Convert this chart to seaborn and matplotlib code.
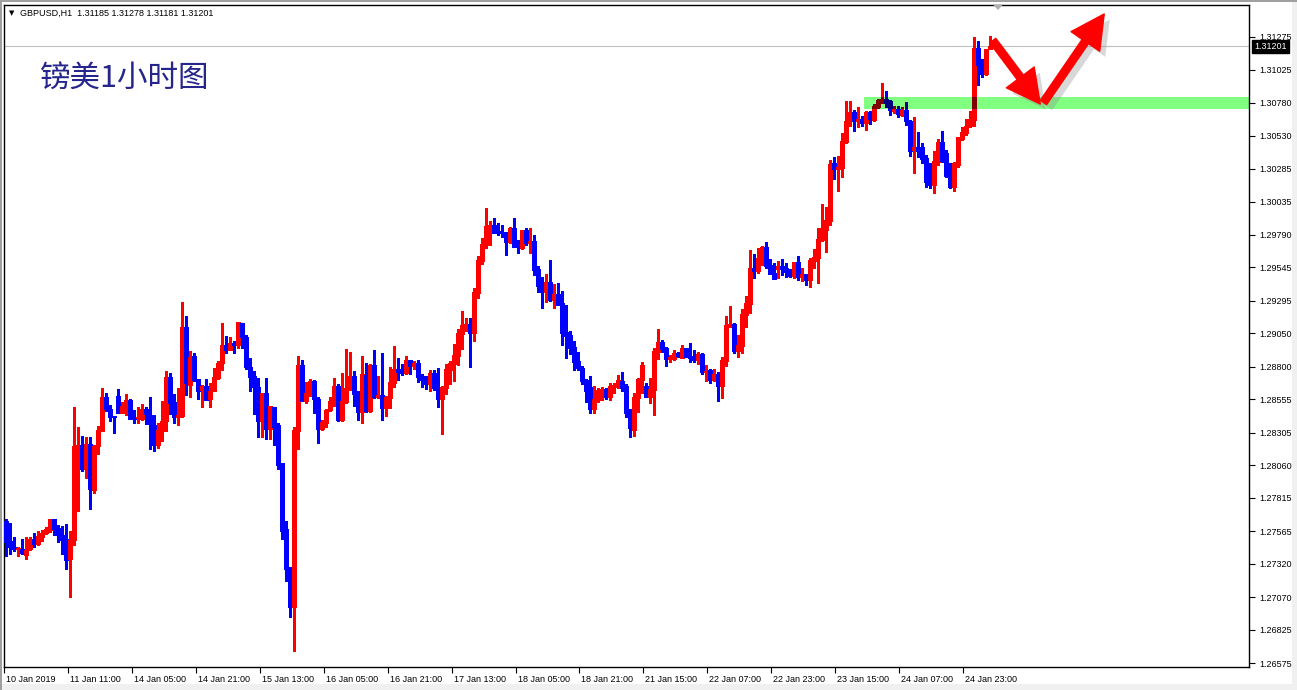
import matplotlib
matplotlib.use('Agg')
import matplotlib.pyplot as plt
import seaborn as sns
import numpy as np
import pandas as pd
from matplotlib.patches import FancyArrowPatch, Rectangle, Polygon
import matplotlib.patheffects as pe
from matplotlib.transforms import blended_transform_factory, ScaledTranslation

# ---------------- data (GBPUSD H1) ----------------
opens = [1.27643,1.27488,1.27448,1.27428,1.27433,1.27383,1.27428,1.27508,1.27465,1.27518,
1.27548,1.27573,1.27653,1.27588,1.27538,1.27503,1.27353,1.27498,1.28200,1.28213,
1.28028,1.28218,1.27873,1.28200,1.28313,1.28573,1.28483,1.28428,1.28578,1.28455,
1.28500,1.28548,1.28423,1.28413,1.28410,1.28485,1.28438,1.28363,1.28208,1.28318,
1.28388,1.28723,1.28535,1.28425,1.28430,1.29093,1.28663,1.28880,1.28705,1.28625,
1.28655,1.28558,1.28613,1.28713,1.28823,1.28963,1.28925,1.28980,1.28965,1.29128,
1.29023,1.28798,1.28730,1.28643,1.28393,1.28598,1.28328,1.28498,1.28358,1.28073,
1.27583,1.27283,1.26993,1.28318,1.28813,1.28543,1.28593,1.28693,1.28560,1.28335,
1.28380,1.28473,1.28535,1.28654,1.28399,1.28534,1.28629,1.28729,1.28596,1.28461,
1.28736,1.28466,1.28812,1.28574,1.28586,1.28491,1.28566,1.28679,1.28782,1.28782,
1.28752,1.28849,1.28807,1.28827,1.28729,1.28714,1.28669,1.28752,1.28646,1.28559,
1.28641,1.28777,1.28822,1.28882,1.29047,1.29107,1.29120,1.29054,1.29355,1.29593,
1.29715,1.29850,1.29863,1.29818,1.29810,1.29810,1.29735,1.29840,1.29705,1.29688,
1.29825,1.29730,1.29743,1.29532,1.29412,1.29360,1.29435,1.29300,1.29345,1.29277,
1.29059,1.29037,1.28947,1.28842,1.28789,1.28699,1.28646,1.28481,1.28549,1.28616,
1.28631,1.28571,1.28646,1.28654,1.28692,1.28654,1.28459,1.28326,1.28566,1.28699,
1.28654,1.28571,1.28624,1.28909,1.28984,1.28942,1.28860,1.28860,1.28905,1.28867,
1.28940,1.28880,1.28872,1.28850,1.28895,1.28760,1.28775,1.28700,1.28745,1.28654,
1.28842,1.29105,1.29120,1.28917,1.28955,1.29188,1.29270,1.29540,1.29518,1.29608,
1.29698,1.29563,1.29503,1.29533,1.29556,1.29540,1.29518,1.29480,1.29586,1.29473,
1.29495,1.29450,1.29593,1.29616,1.29751,1.29826,1.29893,1.30324,1.30284,1.30286,
1.30486,1.30639,1.30707,1.30644,1.30659,1.30624,1.30707,1.30649,1.30749,1.30794,
1.30809,1.30789,1.30719,1.30734,1.30689,1.30727,1.30639,1.30424,1.30444,1.30444,
1.30364,1.30186,1.30159,1.30334,1.30486,1.30404,1.30239,1.30144,1.30309,1.30509,
1.30554,1.30602,1.30649,1.31190,1.31070,1.30995,1.31185]
highs = [1.27658,1.27623,1.27523,1.27443,1.27508,1.27518,1.27523,1.27553,1.27568,1.27573,
1.27593,1.27658,1.27658,1.27613,1.27605,1.27618,1.27568,1.28493,1.28348,1.28280,
1.28268,1.28268,1.28213,1.28355,1.28638,1.28603,1.28513,1.28428,1.28630,1.28535,
1.28593,1.28555,1.28475,1.28493,1.28518,1.28498,1.28573,1.28438,1.28378,1.28543,
1.28768,1.28753,1.28593,1.28638,1.29285,1.29180,1.28918,1.28903,1.28705,1.28663,
1.28708,1.28678,1.28788,1.28843,1.29128,1.29030,1.29023,1.28988,1.29135,1.29128,
1.29033,1.28865,1.28768,1.28713,1.28603,1.28713,1.28505,1.28498,1.28373,1.28073,
1.27643,1.27298,1.28348,1.28878,1.28850,1.28685,1.28708,1.28700,1.28573,1.28400,
1.28485,1.28573,1.28713,1.28671,1.28752,1.28932,1.28912,1.28767,1.28616,1.28879,
1.28827,1.28817,1.28924,1.28729,1.28902,1.28579,1.28797,1.28954,1.28864,1.28822,
1.28879,1.28849,1.28842,1.28852,1.28747,1.28729,1.28774,1.28774,1.28789,1.28656,
1.28819,1.28842,1.28967,1.29082,1.29217,1.29165,1.29165,1.29390,1.29630,1.29765,
1.29990,1.29893,1.29915,1.29878,1.29863,1.29810,1.29848,1.29915,1.29750,1.29825,
1.29840,1.29840,1.29783,1.29555,1.29472,1.29495,1.29600,1.29420,1.29427,1.29367,
1.29262,1.29067,1.28992,1.28909,1.28804,1.28707,1.28729,1.28654,1.28639,1.28646,
1.28639,1.28676,1.28676,1.28737,1.28759,1.28669,1.28481,1.28601,1.28714,1.28834,
1.28676,1.28714,1.28939,1.29082,1.29000,1.28947,1.28890,1.28925,1.28912,1.28962,
1.28942,1.28977,1.28925,1.28910,1.28902,1.28812,1.28782,1.28782,1.28760,1.28872,
1.29180,1.29255,1.29127,1.29037,1.29233,1.29330,1.29676,1.29646,1.29691,1.29706,
1.29736,1.29608,1.29578,1.29593,1.29608,1.29578,1.29533,1.29586,1.29631,1.29540,
1.29495,1.29616,1.29683,1.29841,1.30021,1.29998,1.30351,1.30369,1.30376,1.30549,
1.30794,1.30794,1.30727,1.30744,1.30682,1.30719,1.30717,1.30769,1.30809,1.30925,
1.30864,1.30802,1.30757,1.30752,1.30749,1.30782,1.30649,1.30674,1.30557,1.30474,
1.30389,1.30324,1.30419,1.30509,1.30564,1.30424,1.30329,1.30334,1.30524,1.30594,
1.30659,1.30719,1.31270,1.31245,1.31107,1.31180,1.31278]
lows = [1.27375,1.27393,1.27418,1.27380,1.27393,1.27353,1.27423,1.27443,1.27463,1.27488,
1.27543,1.27558,1.27533,1.27480,1.27390,1.27278,1.27068,1.27458,1.27713,1.28013,
1.27963,1.27728,1.27848,1.28143,1.28313,1.28463,1.28395,1.28298,1.28455,1.28453,
1.28433,1.28403,1.28380,1.28380,1.28398,1.28368,1.28178,1.28163,1.28188,1.28243,
1.28313,1.28443,1.28380,1.28363,1.28423,1.28588,1.28573,1.28693,1.28558,1.28498,
1.28548,1.28493,1.28613,1.28708,1.28775,1.28898,1.28925,1.28903,1.28940,1.28938,
1.28778,1.28613,1.28443,1.28273,1.28268,1.28253,1.28258,1.28213,1.28028,1.27508,
1.27193,1.26918,1.26663,1.28183,1.28538,1.28528,1.28578,1.28453,1.28223,1.28325,
1.28343,1.28463,1.28505,1.28391,1.28391,1.28524,1.28621,1.28506,1.28401,1.28379,
1.28456,1.28456,1.28566,1.28566,1.28401,1.28431,1.28491,1.28646,1.28699,1.28737,
1.28747,1.28744,1.28779,1.28684,1.28649,1.28631,1.28616,1.28624,1.28496,1.28296,
1.28596,1.28671,1.28692,1.28812,1.28932,1.29067,1.28799,1.28992,1.29317,1.29570,
1.29690,1.29708,1.29798,1.29790,1.29775,1.29640,1.29723,1.29693,1.29655,1.29683,
1.29708,1.29648,1.29487,1.29362,1.29242,1.29285,1.29292,1.29242,1.29262,1.28962,
1.28867,1.28894,1.28774,1.28774,1.28669,1.28534,1.28451,1.28451,1.28534,1.28549,
1.28556,1.28546,1.28601,1.28639,1.28616,1.28421,1.28271,1.28279,1.28459,1.28601,
1.28571,1.28526,1.28436,1.28857,1.28909,1.28807,1.28837,1.28847,1.28875,1.28865,
1.28872,1.28835,1.28835,1.28820,1.28745,1.28692,1.28677,1.28692,1.28542,1.28567,
1.28805,1.29097,1.28902,1.28872,1.28902,1.29097,1.29203,1.29465,1.29503,1.29563,
1.29540,1.29495,1.29458,1.29465,1.29488,1.29473,1.29473,1.29465,1.29450,1.29443,
1.29413,1.29398,1.29540,1.29428,1.29738,1.29661,1.29863,1.30209,1.30119,1.30219,
1.30474,1.30604,1.30569,1.30599,1.30607,1.30574,1.30622,1.30644,1.30739,1.30774,
1.30749,1.30689,1.30704,1.30674,1.30679,1.30614,1.30379,1.30249,1.30374,1.30329,
1.30149,1.30139,1.30099,1.30314,1.30334,1.30219,1.30136,1.30119,1.30299,1.30502,
1.30534,1.30594,1.30607,1.30915,1.30975,1.30990,1.31181]
closes = [1.27480,1.27443,1.27428,1.27435,1.27398,1.27425,1.27508,1.27468,1.27528,1.27553,
1.27578,1.27653,1.27578,1.27535,1.27498,1.27348,1.27498,1.28205,1.28213,1.28028,
1.28218,1.27878,1.28205,1.28323,1.28573,1.28480,1.28425,1.28418,1.28455,1.28505,
1.28550,1.28410,1.28403,1.28418,1.28483,1.28443,1.28368,1.28208,1.28323,1.28393,
1.28723,1.28530,1.28423,1.28438,1.29093,1.28673,1.28873,1.28698,1.28618,1.28655,
1.28550,1.28618,1.28723,1.28828,1.28963,1.28925,1.28978,1.28965,1.29135,1.29018,
1.28793,1.28723,1.28643,1.28393,1.28598,1.28328,1.28505,1.28350,1.28063,1.27568,
1.27278,1.26993,1.28323,1.28813,1.28538,1.28603,1.28688,1.28553,1.28335,1.28385,
1.28475,1.28543,1.28655,1.28399,1.28541,1.28641,1.28729,1.28591,1.28461,1.28744,
1.28466,1.28812,1.28571,1.28586,1.28491,1.28571,1.28684,1.28784,1.28762,1.28752,
1.28849,1.28804,1.28827,1.28724,1.28702,1.28669,1.28752,1.28639,1.28559,1.28646,
1.28782,1.28827,1.28887,1.29052,1.29112,1.29120,1.29054,1.29360,1.29600,1.29720,
1.29855,1.29863,1.29805,1.29805,1.29803,1.29735,1.29840,1.29698,1.29693,1.29825,
1.29728,1.29743,1.29525,1.29405,1.29360,1.29435,1.29300,1.29345,1.29262,1.29052,
1.29029,1.28939,1.28834,1.28789,1.28692,1.28616,1.28481,1.28556,1.28624,1.28631,
1.28571,1.28654,1.28661,1.28699,1.28639,1.28451,1.28338,1.28571,1.28707,1.28812,
1.28571,1.28631,1.28917,1.28984,1.28935,1.28860,1.28867,1.28905,1.28882,1.28940,
1.28875,1.28865,1.28850,1.28895,1.28760,1.28767,1.28700,1.28745,1.28654,1.28850,
1.29112,1.29120,1.28917,1.28962,1.29195,1.29278,1.29540,1.29518,1.29616,1.29698,
1.29556,1.29495,1.29458,1.29556,1.29533,1.29510,1.29480,1.29586,1.29473,1.29495,
1.29450,1.29601,1.29623,1.29758,1.29841,1.29901,1.30319,1.30279,1.30294,1.30494,
1.30644,1.30707,1.30644,1.30659,1.30624,1.30707,1.30654,1.30757,1.30799,1.30809,
1.30779,1.30724,1.30734,1.30694,1.30727,1.30639,1.30419,1.30444,1.30419,1.30359,
1.30181,1.30159,1.30339,1.30486,1.30339,1.30231,1.30144,1.30324,1.30519,1.30557,
1.30607,1.30654,1.31190,1.31065,1.30995,1.31180,1.31201]

xtick_labels = ["10 Jan 2019", "11 Jan 11:00", "14 Jan 05:00", "14 Jan 21:00", "15 Jan 13:00",
                "16 Jan 05:00", "16 Jan 21:00", "17 Jan 13:00", "18 Jan 05:00", "18 Jan 21:00",
                "21 Jan 15:00", "22 Jan 07:00", "22 Jan 23:00", "23 Jan 15:00", "24 Jan 07:00",
                "24 Jan 23:00"]
xtick_every = 16
ytick_labels = ["1.31275", "1.31025", "1.30780", "1.30530", "1.30285", "1.30035", "1.29790",
                "1.29545", "1.29295", "1.29050", "1.28800", "1.28555", "1.28305", "1.28060",
                "1.27815", "1.27565", "1.27320", "1.27070", "1.26825", "1.26575"]
header = "GBPUSD,H1  1.31185 1.31278 1.31181 1.31201"
title = "镑美1小时图"
last_price = 1.31201
zone_low, zone_high, zone_start = 1.30734, 1.30824, 214.6
arrow1 = [(246.8, 1.31245), (258.7, 1.30769)]
arrow2 = [(259.5, 1.30781), (274.7, 1.31445)]

# ---------------- figure ----------------
sns.set_theme(style='white')
plt.rcParams['font.family'] = ['Liberation Sans', 'DejaVu Sans']

df = pd.DataFrame({'open': opens, 'high': highs, 'low': lows, 'close': closes})
df['bar'] = np.arange(len(df))
up = (df['close'] >= df['open']).values
body_lo = np.minimum(df['open'], df['close']).values
body_hi = np.maximum(np.maximum(df['open'], df['close']).values, body_lo + 0.00008)

W, H = 1297, 690
fig = plt.figure(figsize=(W / 100, H / 100), dpi=100)
fig.patch.set_facecolor('white')
ax_l, ax_r, ax_t, ax_b = 4, 1249.3, 4.5, 666.7
ax = fig.add_axes([ax_l / W, (H - ax_b) / H, (ax_r - ax_l) / W, (ax_b - ax_t) / H])
ax.set_facecolor('white')
ax.set_xlim(-0.33, 311)
ax.set_ylim(1.26548, 1.31516)

# support zone and price line
zone = Rectangle((zone_start, zone_low), 400, zone_high - zone_low, facecolor='#80FF80',
                 edgecolor='none', zorder=1)
ax.add_patch(zone)
ax.axhline(last_price, color='#C0C0C0', lw=0.8, zorder=2)


def candles(colors, z, clip=None):
    lc = ax.vlines(df['bar'], df['low'], df['high'], colors=colors, linewidth=0.75,
                   antialiased=False, zorder=z)
    bc = ax.vlines(df['bar'], body_lo, body_hi, colors=colors, linewidth=2.3,
                   antialiased=False, zorder=z + 0.5)
    bc.set_capstyle('butt')
    if clip is not None:
        lc.set_clip_path(clip)
        bc.set_clip_path(clip)


candles(np.where(up, '#FF0000', '#0000FF'), 3)
candles(np.where(up, '#800000', '#000080'), 5, clip=zone)

# axes styling
for s in ax.spines.values():
    s.set_color('black')
    s.set_linewidth(1.0)
ax.yaxis.tick_right()
yvals = [float(v) for v in ytick_labels]
ax.set_yticks(yvals)
ax.set_yticklabels(ytick_labels)
ax.tick_params(axis='y', direction='out', length=4, width=0.8, pad=3, labelsize=6.5,
               colors='black', right=True, left=False)
xpos = [i * xtick_every - 0.6 for i in range(len(xtick_labels))]
ax.set_xticks(xpos)
ax.set_xticklabels(xtick_labels, ha='left')
ax.tick_params(axis='x', direction='out', length=4, width=0.8, pad=2, labelsize=6.5,
               colors='black', bottom=True)
off = ScaledTranslation(2 / 100, 0, fig.dpi_scale_trans)
for lab in ax.get_xticklabels():
    lab.set_transform(lab.get_transform() + off)
ax.grid(False)

# current price box
bt = blended_transform_factory(ax.transAxes, ax.transData)
ax.text(1.0, last_price, '1.31201', transform=bt + ScaledTranslation(5 / 100, 0, fig.dpi_scale_trans),
        ha='left', va='center', color='white', fontsize=6.5, clip_on=False, zorder=10,
        bbox=dict(boxstyle='square,pad=0.2', fc='black', ec='black'))

# arrows with shadow
for (a, b) in (arrow1, arrow2):
    arr = FancyArrowPatch(a, b, arrowstyle='simple,head_length=24,head_width=25,tail_width=5.5',
                          mutation_scale=1, color='#FF0000', shrinkA=0, shrinkB=0,
                          zorder=8, clip_on=False,
                          path_effects=[pe.SimplePatchShadow(offset=(4, -4), shadow_rgbFace='#909090', alpha=0.35),
                                        pe.Normal()])
    ax.add_patch(arr)

# header and title
fig.text(9 / W, 1 - 13 / H, '▼', fontsize=5, color='black', va='center', family=['DejaVu Sans'])
fig.text(20 / W, 1 - 13 / H, header, fontsize=6.5, color='black', va='center')
fig.text(40 / W, 1 - 78 / H, title, fontsize=22, color='#25258C', va='center',
         family=['Noto Sans CJK SC', 'DejaVu Sans'], fontweight='light')

# chart-shift marker
tri = Polygon([[993 / W, 1 - 4.5 / H], [1003 / W, 1 - 4.5 / H], [998 / W, 1 - 10 / H]],
              closed=True, transform=fig.transFigure, facecolor='#B0B0B0', edgecolor='none', zorder=20)
fig.patches.append(tri)

# window frame
fig.patches.append(Rectangle((0, 0), 1, 6 / H, transform=fig.transFigure, facecolor='#F0F0F0',
                             edgecolor='none', zorder=0))
fig.patches.append(Rectangle((1292 / W, 0), 5 / W, 1, transform=fig.transFigure, facecolor='#F0F0F0',
                             edgecolor='none', zorder=0))
fig.patches.append(Rectangle((0, 1 - 1.5 / H), 1, 1.5 / H, transform=fig.transFigure, facecolor='#A0A0A0',
                             edgecolor='none', zorder=0))
fig.patches.append(Rectangle((0, 0), 1.5 / W, 1, transform=fig.transFigure, facecolor='#A0A0A0',
                             edgecolor='none', zorder=0))

fig.savefig('out.png', dpi=100)
